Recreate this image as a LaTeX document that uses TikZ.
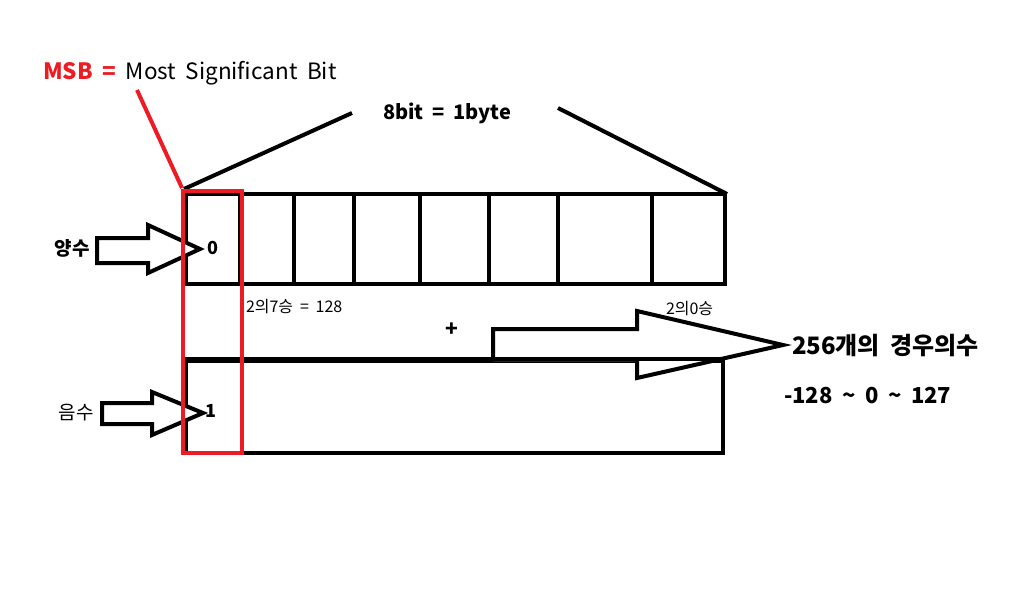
\documentclass[tikz,border=0pt]{standalone}
\usepackage{fontspec}
\setmainfont{Noto Sans CJK KR}[WordSpace=1.9]
\definecolor{msbred}{HTML}{ED1C24}
\begin{document}
\begin{tikzpicture}[x=1pt,y=-1pt,
  line width=4pt,
  cell/.style={draw=black,line width=4pt,rectangle,inner sep=0pt,minimum height=90pt},
  txt/.style={inner sep=0pt,font=\fontsize{16}{18}\selectfont},
  btxt/.style={inner sep=0pt,font=\fontsize{22}{26}\selectfont\bfseries},
  redbox/.style={draw=msbred,line width=4pt,rectangle,inner sep=0pt},
  bigarrow/.style={draw=black,line width=4pt,line join=miter,fill=white}]
\useasboundingbox (0,0) rectangle (1013,616);
% top byte cells
\node[cell,minimum width=54pt] (c1) at (213,239) {};
\node[cell,minimum width=54pt] (c2) at (267,239) {};
\node[cell,minimum width=60pt] (c3) at (324,239) {};
\node[cell,minimum width=66pt] (c4) at (387,239) {};
\node[cell,minimum width=69pt] (c5) at (454.5,239) {};
\node[cell,minimum width=69pt] (c6) at (523.5,239) {};
\node[cell,minimum width=94pt] (c7) at (605,239) {};
\node[cell,minimum width=73pt] (c8) at (688.5,239) {};
% bottom box
\node[cell,minimum width=537pt,minimum height=92pt] (low) at (454.5,407) {};
% big arrow to the right
\coordinate (tipR) at (783,345);
\draw[bigarrow] (493,361) -- (493,329) -- (637,329) -- (637,311) -- (tipR) -- (637,378) -- (637,361);
\draw (low.north west) -- (low.north east);
% title and trapezoid lines
\node[inner sep=0pt,font=\fontsize{20}{24}\selectfont\bfseries] (title) at (447,113) {8bit = 1byte};
\coordinate (tl) at (352,113);
\coordinate (tr) at (558,108);
\draw (c1.north west) ++(0,-3) -- (tl);
\draw (tr) -- ([yshift=-2pt]c8.north east);
% left arrows
\coordinate (tipP) at (200,249);
\draw[bigarrow] (97,238) -- (148,238) -- (148,225) -- (tipP) -- (148,273) -- (148,263) -- (97,263) -- cycle;
\coordinate (tipN) at (203,413);
\draw[bigarrow] (102,403) -- (152,403) -- (152,392) -- (tipN) -- (152,435) -- (152,424) -- (102,424) -- cycle;
\node[inner sep=0pt,font=\fontsize{19}{22}\selectfont\bfseries] (pos) at (72,248) {양수};
\node[inner sep=0pt,font=\fontsize{19}{22}\selectfont] (neg) at (76,413) {음수};
\node[inner sep=0pt,font=\fontsize{18}{20}\selectfont\bfseries] (zero) at (213,248) {0};
\node[inner sep=0pt,font=\fontsize{18}{20}\selectfont\bfseries] (one) at (211,411) {1};
% MSB red box and label
\node[redbox,minimum width=59pt,minimum height=262pt] (msb) at (212.5,322) {};
\node[inner sep=0pt,anchor=west,font=\fontsize{22.5}{26}\selectfont] (msblabel) at (41,73) {\textcolor{msbred}{\bfseries MSB =} Most Significant Bit};
\coordinate (msbline) at (137,90);
\draw[msbred] (msbline) -- ([xshift=1pt,yshift=1pt]msb.north west);
% labels
\node[txt,anchor=west] (p7) at (244,307) {2의7승 = 128};
\node[txt,anchor=west] (p0) at (664,309) {2의0승};
\node[inner sep=0pt,font=\fontsize{21}{24}\selectfont\bfseries] (plus) at (452,330) {+};
\node[btxt,anchor=west,font=\fontsize{24}{28}\selectfont\bfseries] (cases) at (790,346) {256개의 경우의수};
\node[btxt,anchor=west] (range) at (782,396) {-128 \char`\~{} 0 \char`\~{} 127};
\end{tikzpicture}
\end{document}
